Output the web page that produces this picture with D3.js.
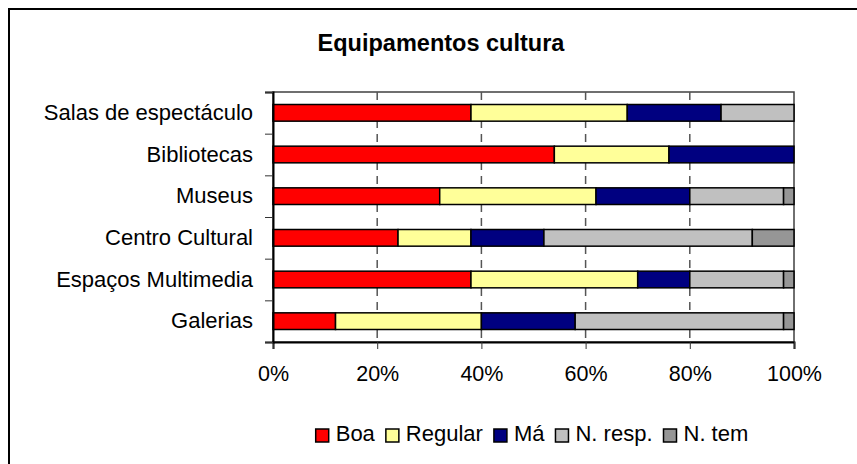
<!DOCTYPE html>
<html>
<head>
<meta charset="utf-8">
<script src="https://cdn.jsdelivr.net/npm/d3@7"></script>
<style>
  body { margin: 0; background: #fff; }
  svg { display: block; }
  text { font-family: "Liberation Sans", Arial, sans-serif; fill: #000; }
</style>
</head>
<body>
<script>
'use strict';

let categories = ['Salas de espectáculo', 'Bibliotecas', 'Museus', 'Centro Cultural', 'Espaços Multimedia', 'Galerias'];
let seriesNames = ['Boa', 'Regular', 'Má', 'N. resp.', 'N. tem'];
let boa     = [38, 54, 32, 24, 38, 12];
let regular = [30, 22, 30, 14, 32, 28];
let ma      = [18, 24, 18, 14, 10, 18];
let nResp   = [14,  0, 18, 40, 18, 40];
let nTem    = [ 0,  0,  2,  8,  2,  2];
let xTicks  = [0, 20, 40, 60, 80, 100];
let colors  = ['#ff0000', '#ffff99', '#000080', '#c0c0c0', '#969696'];

let table = categories.map(function(c, i){
	return {cat: c, 'Boa': boa[i], 'Regular': regular[i], 'Má': ma[i], 'N. resp.': nResp[i], 'N. tem': nTem[i]};
});

let width = 857, height = 464;
let margin = {left: 273, top: 92};
let plotW = 521, plotH = 250;

let svg = d3.select('body').append('svg').attr('width', width).attr('height', height);

// outer chart frame (runs off the bottom/right of the picture)
svg.append('rect')
	.attr('x', 9).attr('y', 9).attr('width', 900).attr('height', 500)
	.attr('fill', 'none').attr('stroke', '#000').attr('stroke-width', 2);

svg.append('text')
	.attr('x', 441).attr('y', 51)
	.attr('text-anchor', 'middle')
	.style('font-weight', 'bold').style('font-size', '23.5px')
	.text('Equipamentos cultura');

let x = d3.scaleLinear().domain([0, 100]).range([0, plotW]);
let y = d3.scaleBand().domain(categories).range([0, plotH]).paddingInner(0.6).paddingOuter(0.3);
let yEdge = d3.scaleLinear().domain([0, categories.length]).range([0, plotH]);

let g = svg.append('g').attr('transform', 'translate(' + margin.left + ',' + margin.top + ')');

// plot border
g.append('rect')
	.attr('x', 0).attr('y', 0).attr('width', plotW).attr('height', plotH)
	.attr('fill', 'none').attr('stroke', '#404040').attr('stroke-width', 1.5);

// dashed gridlines
g.append('g').selectAll('line')
	.data(xTicks.slice(1, -1))
	.enter().append('line')
	.attr('x1', function(d){ return x(d); }).attr('x2', function(d){ return x(d); })
	.attr('y1', 0).attr('y2', plotH)
	.attr('stroke', '#555').attr('stroke-width', 1.5)
	.attr('stroke-dasharray', '8,6');

let stacked = d3.stack().keys(seriesNames)(table);

g.selectAll('.series')
	.data(stacked)
	.enter().append('g')
	.attr('class', 'series')
	.attr('fill', function(d, i){ return colors[i]; })
	.selectAll('rect')
	.data(function(d){ return d.filter(function(p){ return p[1] - p[0] > 0; }); })
	.enter().append('rect')
	.attr('x', function(d){ return x(d[0]); })
	.attr('width', function(d){ return x(d[1]) - x(d[0]); })
	.attr('y', function(d){ return y(d.data.cat); })
	.attr('height', y.bandwidth())
	.attr('stroke', '#000').attr('stroke-width', 1.5);

// x axis
let xAxis = d3.axisBottom(x).tickValues(xTicks).tickFormat(function(d){ return d + '%'; })
	.tickSize(7).tickPadding(17);
let xg = g.append('g').attr('transform', 'translate(0,' + plotH + ')').call(xAxis);
xg.select('.domain').attr('stroke', '#000').attr('stroke-width', 2);
xg.selectAll('.tick line').attr('stroke', '#333');
xg.selectAll('text').style('font-size', '21.5px').attr('fill', '#000');

// y axis: tick marks between categories
let yTickAxis = d3.axisLeft(yEdge).tickValues(d3.range(categories.length + 1)).tickFormat('').tickSize(8);
let yg = g.append('g').call(yTickAxis);
yg.select('.domain').attr('stroke', '#000').attr('stroke-width', 2);
yg.selectAll('.tick line').attr('stroke', '#333');

// y axis: category labels
let yLabelAxis = d3.axisLeft(y).tickSize(0).tickPadding(20);
let yl = g.append('g').call(yLabelAxis);
yl.select('.domain').remove();
yl.selectAll('text').style('font-size', '22px').attr('fill', '#000');

// legend
let legend = svg.append('g');
let cursor = 0;
seriesNames.forEach(function(name, i){
	let item = legend.append('g').attr('transform', 'translate(' + cursor + ',0)');
	item.append('rect')
		.attr('x', 0).attr('y', -12).attr('width', 13).attr('height', 13)
		.attr('fill', colors[i]).attr('stroke', '#000').attr('stroke-width', 1.5);
	let t = item.append('text')
		.attr('x', 20).attr('y', 0)
		.style('font-size', '22px')
		.text(name);
	cursor += 20 + t.node().getComputedTextLength() + 11;
});
let legendW = cursor - 11;
legend.attr('transform', 'translate(' + (532 - legendW / 2) + ',441)');
</script>
</body>
</html>
